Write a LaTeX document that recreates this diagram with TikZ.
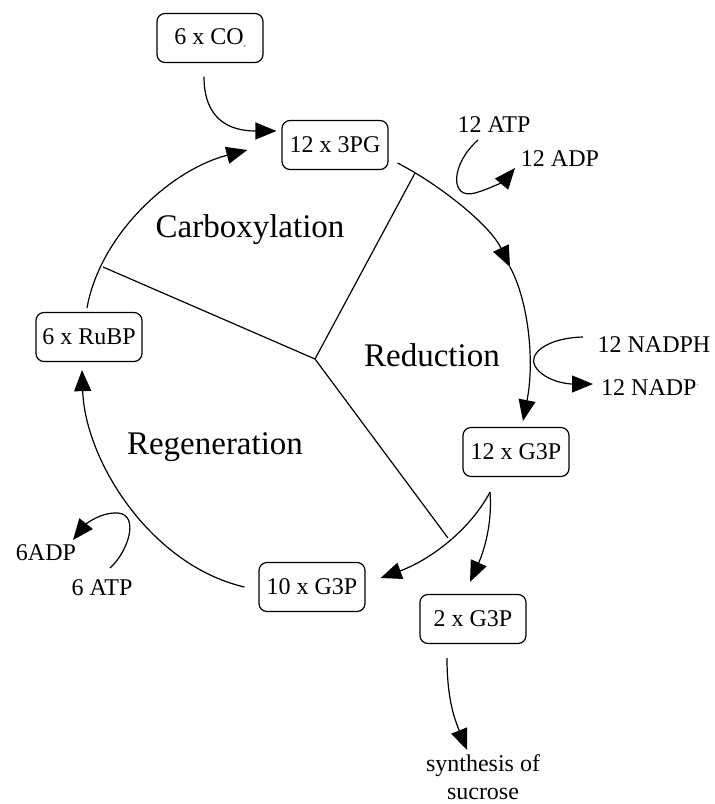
\documentclass[tikz,border=0pt]{standalone}
\usepackage{fontspec}
\setmainfont{Liberation Serif}
\usetikzlibrary{arrows.meta,calc}
\begin{document}
\begin{tikzpicture}[x=1pt,y=-1pt,line width=1.2pt]
  \tikzstyle{box}=[draw,rounded corners=8pt,minimum width=106pt,minimum height=49pt,inner sep=0pt,font=\fontsize{24}{28}\selectfont]
  \tikzstyle{chem}=[inner sep=0pt,font=\fontsize{24}{28}\selectfont]
  \tikzstyle{phase}=[inner sep=0pt,font=\fontsize{33}{38}\selectfont]
  \tikzstyle{flow}=[-{Triangle[length=21pt,width=17pt]}]
  \useasboundingbox (0,0) rectangle (715,804);

  \foreach \name/\x/\y/\txt in {co2/210/38/{6 x CO\raisebox{-3pt}{\fontsize{4}{4}\selectfont 2}}, pg/335/145/{12 x 3PG}, rubp/89/337/{6 x RuBP}, gtwelve/516/452/{12 x G3P}, gten/312/587/{10 x G3P}, gtwo/473/619/{2 x G3P}}
    \node[box] (\name) at (\x,\y) {\txt};

  \foreach \name/\x/\y/\txt in {atp/494/125/{12 ATP}, adp/560/159/{12 ADP}, nadph/654/345/{12 NADPH}, nadp/650/388/{12 NADP\raisebox{9pt}{\fontsize{4}{4}\selectfont +}}, sixatp/102/588/{6 ATP}, sixadp/46/553/{6ADP}}
    \node[chem] (\name) at (\x,\y) {\txt};
  \node[chem,align=center] (sucrose) at (483,777) {synthesis of\\sucrose};

  \node[phase] (carb) at (250,230) {Carboxylation};
  \node[phase] (red) at (432,355) {Reduction};
  \node[phase] (regen) at (215,447) {Regeneration};

  \coordinate (mid) at (315,359);
  \foreach \name/\x/\y in {da/415/173, db/103/267, dc/448/538}
    \draw (mid) -- (\x,\y) coordinate (\name);

  \coordinate (r1) at (510,267);
  \draw[flow] ($(co2.south)+(-6,13.5)$) .. controls (204,120) and (230,131) .. ($(pg.west)+(-5,-14)$);
  \draw[flow] ($(rubp.north)+(-2,-4)$) .. controls (100,235) and (170,170) .. ($(pg.west)+(-34,5)$);
  \draw[flow] ($(pg.east)+(9,18)$) .. controls (440,185) and (490,225) .. (r1);
  \draw[flow] (r1) .. controls (528,300) and (535,360) .. ($(gtwelve.north)+(7,-6)$);
  \draw[flow] ($(atp)+(-16,15)$) .. controls (450,165) and (450,200) .. (475,193) .. controls (490,189) and (505,180) .. ($(adp)+(-45,9)$);
  \draw[flow] ($(nadph)+(-71,-8)$) .. controls (545,338) and (528,355) .. (535,366) .. controls (543,380) and (565,384) .. ($(nadp)+(-57,-4)$);
  \draw[flow] ($(gtwelve.south)+(-26,15)$) .. controls (470,530) and (430,560) .. ($(gten.east)+(15,-9)$);
  \draw[flow] ($(gtwelve.south)+(-26,15)$) .. controls (493,530) and (480,560) .. ($(gtwo.north)+(-3,-12)$);
  \draw[flow] ($(gtwo.south)+(-26,14)$) .. controls (447,700) and (455,720) .. ($(sucrose)+(-16,-27)$);
  \draw[flow] ($(gten.west)+(-14,0)$) .. controls (150,565) and (85,460) .. ($(rubp.south)+(-7,8)$);
  \draw[flow] ($(sixatp)+(8,-20)$) .. controls (128,552) and (140,515) .. (118,513) .. controls (100,512) and (85,525) .. ($(sixadp)+(27,-13)$);
\end{tikzpicture}
\end{document}
